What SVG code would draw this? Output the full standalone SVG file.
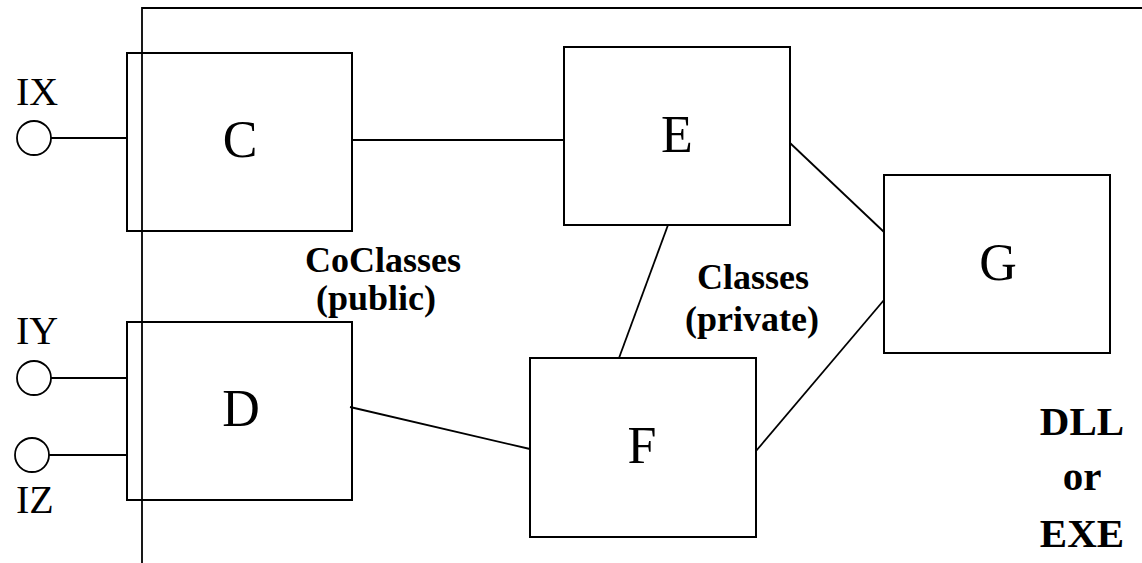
<svg xmlns="http://www.w3.org/2000/svg" width="1142" height="563" viewBox="0 0 1142 563">
  <style>
    .box { fill: none; stroke: #000; stroke-width: 2; }
    .wire { fill: none; stroke: #000; stroke-width: 1.8; }
    .port { fill: #fff; stroke: #000; stroke-width: 1.8; }
    .big { font-family: "Liberation Serif", "Times New Roman", serif; font-size: 52px; fill: #000; text-anchor: middle; }
    .iface { font-family: "Liberation Serif", "Times New Roman", serif; font-size: 40px; fill: #000; }
    .note { font-family: "Liberation Serif", "Times New Roman", serif; font-size: 36px; font-weight: bold; fill: #000; text-anchor: middle; }
    .note2 { font-family: "Liberation Serif", "Times New Roman", serif; font-size: 41px; font-weight: bold; fill: #000; text-anchor: middle; }
  </style>
  <rect width="1142" height="563" fill="#fff"/>

  <!-- module boundary (DLL or EXE) -->
  <g id="module">
    <polyline class="wire" points="142,563 142,8 1142,8"/>
    <text class="note2" x="1082" y="435">DLL<tspan x="1082" y="490">or</tspan><tspan x="1082" y="547">EXE</tspan></text>
  </g>

  <!-- connectors -->
  <g id="connectors">
    <line class="wire" x1="51" y1="138" x2="128" y2="138"/>
    <line class="wire" x1="51" y1="378" x2="128" y2="378"/>
    <line class="wire" x1="49" y1="455" x2="127" y2="455"/>
    <line class="wire" x1="352" y1="140" x2="564" y2="140"/>
    <line class="wire" x1="790" y1="143" x2="884" y2="232"/>
    <line class="wire" x1="668" y1="225" x2="619" y2="358"/>
    <line class="wire" x1="756" y1="451" x2="884" y2="300"/>
    <line class="wire" x1="350" y1="407" x2="530" y2="449"/>
  </g>

  <!-- interfaces -->
  <g id="IX">
    <circle class="port" cx="34" cy="138" r="17"/>
    <text class="iface" x="16" y="105">IX</text>
  </g>
  <g id="IY">
    <circle class="port" cx="34" cy="378" r="17"/>
    <text class="iface" x="16" y="344">IY</text>
  </g>
  <g id="IZ">
    <circle class="port" cx="32" cy="455" r="17"/>
    <text class="iface" x="16" y="513">IZ</text>
  </g>

  <!-- coclasses -->
  <g id="C">
    <rect class="box" x="127" y="53" width="225" height="178"/>
    <text class="big" x="240" y="157">C</text>
  </g>
  <g id="D">
    <rect class="box" x="127" y="322" width="225" height="178"/>
    <text class="big" x="241" y="426">D</text>
  </g>
  <g id="coclasses-label">
    <text class="note" x="383" y="272">CoClasses<tspan x="376" y="310">(public)</tspan></text>
  </g>

  <!-- private classes -->
  <g id="E">
    <rect class="box" x="564" y="47" width="226" height="178"/>
    <text class="big" x="677" y="152">E</text>
  </g>
  <g id="F">
    <rect class="box" x="530" y="358" width="226" height="179"/>
    <text class="big" x="642" y="463">F</text>
  </g>
  <g id="G">
    <rect class="box" x="884" y="175" width="226" height="178"/>
    <text class="big" x="998" y="280">G</text>
  </g>
  <g id="classes-label">
    <text class="note" x="753" y="289">Classes<tspan x="752" y="331">(private)</tspan></text>
  </g>
</svg>
